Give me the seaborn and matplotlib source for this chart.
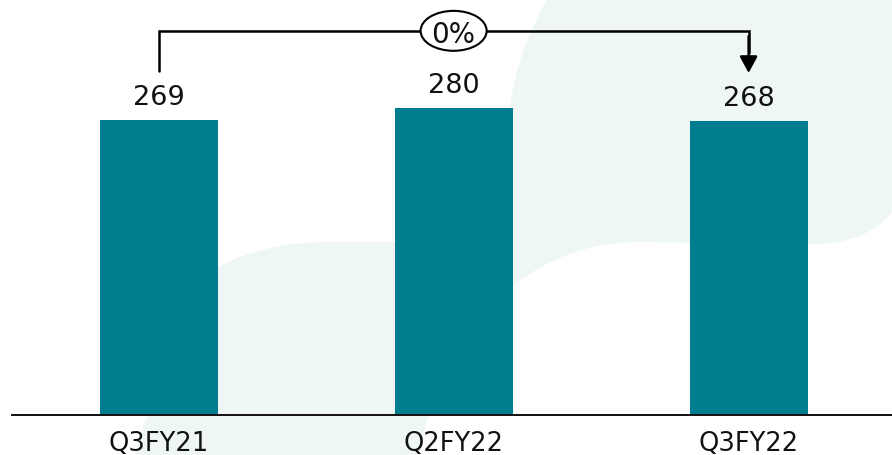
import numpy as np
import pandas as pd
import matplotlib
matplotlib.use("Agg")
import matplotlib.pyplot as plt
import seaborn as sns
from matplotlib.path import Path
from matplotlib.patches import PathPatch, Ellipse

# chart data
quarters = ["Q3FY21", "Q2FY22", "Q3FY22"]
values = [269, 280, 268]
change_label = "0%"

bar_color = "#007D8F"
blob_color = "#EEF7F6"

df = pd.DataFrame({"quarter": quarters, "value": values})

sns.set_style("white")
plt.rcParams["font.family"] = ["DejaVu Sans"]

W, H = 892, 456
fig = plt.figure(figsize=(W / 100, H / 100), dpi=100)
ax = fig.add_axes([12 / W, 40 / H, 880 / W, 416 / H])
ax.patch.set_alpha(0)


# background blobs, drawn in pixel coords (y down) on the figure
def blob(verts, codes):
    pts = np.array(verts, dtype=float)
    pts[:, 0] = pts[:, 0] / W
    pts[:, 1] = 1 - pts[:, 1] / H
    p = PathPatch(Path(pts, codes), facecolor=blob_color, edgecolor="none",
                  transform=fig.transFigure, zorder=-1)
    fig.add_artist(p)


M, C, L, Z = Path.MOVETO, Path.CURVE4, Path.LINETO, Path.CLOSEPOLY
blob([(547, 0), (528, 35), (514, 70), (510, 110), (505, 290), (512, 287),
      (545, 262), (585, 243), (640, 243), (820, 245),
      (855, 243), (880, 230), (892, 213), (892, 0), (547, 0)],
     [M, C, C, C, L, L, C, C, C, L, C, C, C, L, Z])
blob([(218, 268), (245, 254), (280, 243), (330, 243), (460, 243), (460, 380),
      (428, 418), (418, 456), (135, 456), (143, 427), (200, 290), (218, 268)],
     [M, C, C, C, L, L, L, L, L, L, L, Z])

# bars
sns.barplot(data=df, x="quarter", y="value", color=bar_color, saturation=1,
            width=0.4, linewidth=0, ax=ax)

ax.set_xlim(-0.497, 2.486)
ax.set_ylim(0, 379)
ax.set_xlabel("")
ax.set_ylabel("")
ax.set_yticks([])
sns.despine(ax=ax, left=True)
ax.spines["bottom"].set_linewidth(1.4)
ax.spines["bottom"].set_color("#111111")
ax.tick_params(axis="x", length=0, pad=11, labelsize=18.5, labelcolor="#111111")

# value labels
for i, v in enumerate(values):
    ax.annotate(str(v), (i, v), xytext=(0, 11.5), textcoords="offset points",
                ha="center", va="baseline", fontsize=19.5, color="#111111")

# change bracket with arrow
top_y = 350
ax.plot([0, 0, 2, 2], [313.4, top_y, top_y, 330], color="black", lw=1.8,
        solid_joinstyle="miter", zorder=3)
ax.annotate("", xy=(2, 311.6), xytext=(2, top_y - 5),
            arrowprops=dict(arrowstyle="-|>,head_length=0.5,head_width=0.27",
                            mutation_scale=20, color="black", lw=1.8,
                            shrinkA=0, shrinkB=0), zorder=3)
ax.add_patch(Ellipse((1, top_y), 0.224, 36.4, facecolor="white",
                     edgecolor="black", lw=1.5, zorder=4))
ax.text(1, top_y, change_label, ha="center", va="center_baseline",
        fontsize=20, color="#111111", zorder=5)

fig.savefig("out.png", dpi=100)
